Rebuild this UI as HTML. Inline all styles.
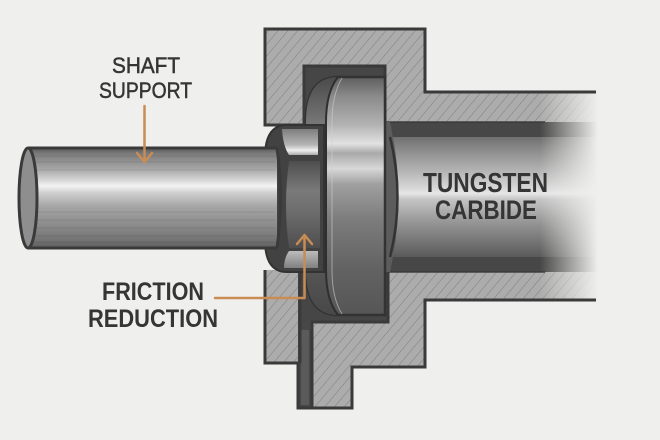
<!DOCTYPE html>
<html><head><meta charset="utf-8"><style>
html,body{margin:0;padding:0;background:#efefed;}
svg{display:block;}
</style></head><body>
<svg width="660" height="440" viewBox="0 0 660 440" xmlns="http://www.w3.org/2000/svg">
<defs>
<pattern id="hatch" patternUnits="userSpaceOnUse" width="7.5" height="7.5" patternTransform="rotate(40)">
<rect width="7.5" height="7.5" fill="#acacac"/>
<line x1="0" y1="0" x2="0" y2="7.5" stroke="#7e7e7e" stroke-width="1"/>
</pattern>
<linearGradient id="shaftG" x1="0" y1="148" x2="0" y2="248" gradientUnits="userSpaceOnUse">
<stop offset="0" stop-color="#5a5a5a"/><stop offset="0.06" stop-color="#7d7d7d"/>
<stop offset="0.2" stop-color="#a3a3a3"/><stop offset="0.32" stop-color="#d5d5d5"/>
<stop offset="0.38" stop-color="#f3f3f3"/><stop offset="0.45" stop-color="#cfcfcf"/>
<stop offset="0.58" stop-color="#a6a6a6"/><stop offset="0.78" stop-color="#8a8a8a"/>
<stop offset="0.92" stop-color="#747474"/><stop offset="1" stop-color="#5e5e5e"/>
</linearGradient>
<linearGradient id="tubeG" x1="0" y1="137" x2="0" y2="257" gradientUnits="userSpaceOnUse">
<stop offset="0" stop-color="#707070"/><stop offset="0.12" stop-color="#8e8e8e"/>
<stop offset="0.3" stop-color="#b8b8b8"/><stop offset="0.42" stop-color="#d6d6d6"/>
<stop offset="0.47" stop-color="#e6e6e6"/><stop offset="0.52" stop-color="#c4c4c4"/>
<stop offset="0.7" stop-color="#989898"/><stop offset="0.88" stop-color="#737373"/>
<stop offset="1" stop-color="#5a5a5a"/>
</linearGradient>
<linearGradient id="bearG" x1="0" y1="77" x2="0" y2="315" gradientUnits="userSpaceOnUse">
<stop offset="0" stop-color="#5e5e5e"/><stop offset="0.08" stop-color="#8a8a8a"/>
<stop offset="0.2" stop-color="#b2b2b2"/><stop offset="0.28" stop-color="#e2e2e2"/>
<stop offset="0.32" stop-color="#a9a9a9"/><stop offset="0.385" stop-color="#d8d8d8"/>
<stop offset="0.45" stop-color="#a0a0a0"/><stop offset="0.6" stop-color="#7c7c7c"/>
<stop offset="0.8" stop-color="#636363"/><stop offset="1" stop-color="#565656"/>
</linearGradient>
<linearGradient id="faceG" x1="0" y1="77" x2="0" y2="315" gradientUnits="userSpaceOnUse">
<stop offset="0" stop-color="#4a4a4a"/><stop offset="0.28" stop-color="#8a8a8a"/>
<stop offset="0.5" stop-color="#6a6a6a"/><stop offset="1" stop-color="#484848"/>
</linearGradient>
<linearGradient id="lipG" x1="0" y1="128" x2="0" y2="156" gradientUnits="userSpaceOnUse">
<stop offset="0" stop-color="#7a7a7a"/><stop offset="0.6" stop-color="#b5b5b5"/>
<stop offset="0.8" stop-color="#f0f0f0"/><stop offset="1" stop-color="#9a9a9a"/>
</linearGradient>
<linearGradient id="lip2G" x1="0" y1="250" x2="0" y2="268" gradientUnits="userSpaceOnUse">
<stop offset="0" stop-color="#c0c0c0"/><stop offset="1" stop-color="#808080"/>
</linearGradient>
<linearGradient id="bodyG" x1="0" y1="160" x2="0" y2="248" gradientUnits="userSpaceOnUse">
<stop offset="0" stop-color="#4c4c4c"/><stop offset="0.35" stop-color="#7a7a7a"/>
<stop offset="0.6" stop-color="#6c6c6c"/><stop offset="1" stop-color="#4e4e4e"/>
</linearGradient>
<linearGradient id="fade" x1="540" y1="0" x2="598" y2="0" gradientUnits="userSpaceOnUse">
<stop offset="0" stop-color="#efefed" stop-opacity="0"/>
<stop offset="0.6" stop-color="#efefed" stop-opacity="0.6"/>
<stop offset="1" stop-color="#efefed" stop-opacity="1"/>
</linearGradient>
</defs>

<rect width="660" height="440" fill="#efefed"/>

<!-- tube bands and body -->
<rect x="385" y="122" width="220" height="150" fill="#474747"/>
<rect x="390" y="137" width="215" height="120" fill="url(#tubeG)"/>

<!-- housing hatched -->
<path d="M265,29 H425 V92 H605 V122 H385 V66 H304 V125 H265 Z" fill="url(#hatch)"/>
<path d="M265,270 H300 V363 H265 Z" fill="url(#hatch)"/>
<path d="M300,322 H388 V272 H605 V300 H425 V367 H352 V408 H300 Z" fill="url(#hatch)"/>

<!-- fade -->
<rect x="540" y="85" width="80" height="222" fill="url(#fade)"/>

<!-- pockets -->
<rect x="304" y="66" width="81" height="60" fill="#464646"/>
<rect x="298" y="270" width="90" height="52" fill="#464646"/>
<rect x="298" y="322" width="14" height="86" fill="#474747"/>
<rect x="301" y="330" width="8" height="75" fill="#5a5a5a"/>

<!-- housing outlines -->
<g fill="none" stroke="#3a3a3a" stroke-width="3" stroke-linejoin="miter">
<path d="M596,92 H425 V29 H265 V125 H304 V66 H385 V122"/>
<path d="M265,270 V363 H298 V408 H352 V367 H425 V300 H596"/>
<path d="M312,408 V322 H388 V272"/>
<path d="M300,270 V363"/>
</g>
<path d="M385,122 H545" stroke="#3a3a3a" stroke-width="2" opacity="0.7"/>
<path d="M388,272 H545" stroke="#3a3a3a" stroke-width="2" opacity="0.7"/>

<!-- tube left end -->
<path d="M385,122 H390 Q407,197 390,272 H385 Z" fill="#5c5c5c"/>
<path d="M390,137 Q405,197 390,257" fill="none" stroke="#333" stroke-width="2.5"/>

<!-- bearing -->
<path d="M338,77 H385 V315 H338 Q306,315 306,270 V122 Q306,77 338,77 Z" fill="url(#bearG)" stroke="#333" stroke-width="2.5"/>
<path d="M338,77 Q306,77 306,122 V270 Q306,315 338,315 Q326,300 326,270 V122 Q326,92 338,77 Z" fill="url(#faceG)"/>
<path d="M338,77 Q326,92 326,122 V270 Q326,300 338,315" fill="none" stroke="#2f2f2f" stroke-width="2"/>
<path d="M342,78 Q332,95 332,122 V270 Q332,298 342,314" fill="none" stroke="#cfcfcf" stroke-width="1" opacity="0.6"/>

<!-- collar -->
<path d="M287,125 H324 V272 H287 Q265,272 265,240 V157 Q265,125 287,125 Z" fill="#424242" stroke="#333" stroke-width="2"/>
<path d="M282,129 H318 V155 H289 Q283,146 282,129 Z" fill="url(#lipG)"/>
<path d="M289,161 H320 V248 H289 Q283,205 289,161 Z" fill="url(#bodyG)"/>
<path d="M289,251 H318 V268 H284 Q284,258 289,251 Z" fill="url(#lip2G)"/>

<!-- shaft -->
<rect x="28" y="148" width="249" height="100" fill="url(#shaftG)"/>
<g stroke="#000" stroke-width="0.8" opacity="0.12">
<line x1="35" y1="156" x2="275" y2="156"/><line x1="35" y1="162" x2="275" y2="162"/>
<line x1="35" y1="170" x2="275" y2="170"/><line x1="35" y1="212" x2="275" y2="212"/>
<line x1="35" y1="220" x2="275" y2="220"/><line x1="35" y1="228" x2="275" y2="228"/>
<line x1="35" y1="236" x2="275" y2="236"/><line x1="35" y1="242" x2="275" y2="242"/>
</g>
<path d="M28,148 H277 M28,248 H277" stroke="#3a3a3a" stroke-width="3"/>
<path d="M277,148 Q284,198 277,248" fill="none" stroke="#3a3a3a" stroke-width="3"/>
<ellipse cx="28" cy="198" rx="9" ry="50" fill="#8e8e8e" stroke="#3a3a3a" stroke-width="3"/>

<!-- labels -->
<g font-family="Liberation Sans, sans-serif" fill="#353535" text-anchor="middle">
<text x="146" y="73" font-size="22" stroke="#353535" stroke-width="0.5" textLength="68" lengthAdjust="spacingAndGlyphs">SHAFT</text>
<text x="145.5" y="98" font-size="22" stroke="#353535" stroke-width="0.5" textLength="93" lengthAdjust="spacingAndGlyphs">SUPPORT</text>
<text x="153" y="300" font-size="25" font-weight="bold" textLength="102" lengthAdjust="spacingAndGlyphs">FRICTION</text>
<text x="153" y="327" font-size="25" font-weight="bold" textLength="130" lengthAdjust="spacingAndGlyphs">REDUCTION</text>
<text x="485.5" y="192" font-size="28" font-weight="bold" textLength="125" lengthAdjust="spacingAndGlyphs">TUNGSTEN</text>
<text x="486" y="219" font-size="27" font-weight="bold" textLength="102" lengthAdjust="spacingAndGlyphs">CARBIDE</text>
</g>

<!-- arrows -->
<g fill="none" stroke="#c98c55" stroke-width="2.5" stroke-linecap="round" stroke-linejoin="round">
<path d="M144.5,106 V161"/>
<path d="M137,153 L144.5,162 L152,153"/>
<path d="M215,298 H304.5 V236"/>
<path d="M297,244 L304.5,235 L312,244"/>
</g>
</svg>
</body></html>
